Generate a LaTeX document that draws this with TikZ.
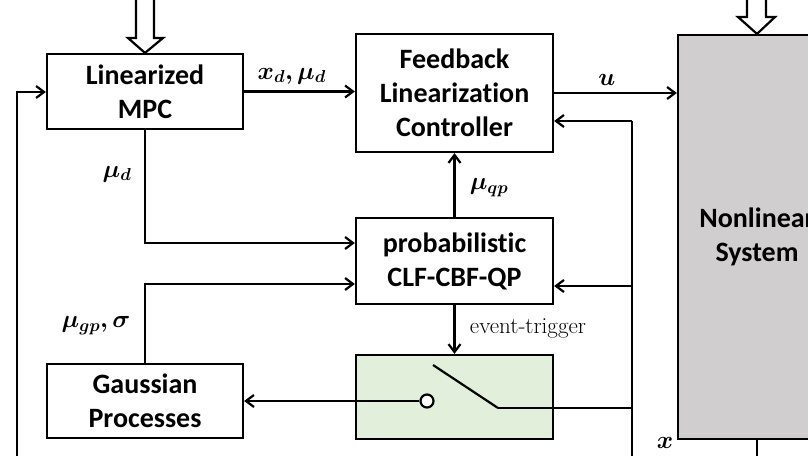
\documentclass[tikz,border=0pt]{standalone}
\usepackage{fontspec}
\setmainfont{Carlito}[Ligatures={NoCommon,NoRequired,NoContextual}]
\newfontfamily\serifet{Latin Modern Roman}
\usepackage{amsmath,bm}
\usetikzlibrary{arrows.meta}
\definecolor{sysgray}{RGB}{208,206,206}
\definecolor{swgreen}{RGB}{226,239,218}
\begin{document}
\begin{tikzpicture}[x=1pt,y=-1pt,
  line width=2.2pt,
  blk/.style={draw,line width=2.2pt,inner sep=0pt,align=center,font=\fontsize{28}{34}\selectfont\bfseries},
  arr/.style={-{Straight Barb[length=8pt,width=12pt,line width=2.2pt]}},
  mlab/.style={font=\fontsize{26}{28}\selectfont},
  hollow/.style={draw,line width=2.2pt,fill=white,line join=miter}]
\useasboundingbox (0,0) rectangle (808,455);
% blocks
\node[blk,minimum width=196pt,minimum height=75pt] (mpc) at (145,91.5) {Linearized\\MPC};
\node[blk,minimum width=197pt,minimum height=118pt] (flc) at (454.5,93) {Feedback\\Linearization\\Controller};
\node[blk,minimum width=197pt,minimum height=86pt] (pqp) at (454.5,261) {probabilistic\\CLF-CBF-QP};
\node[blk,minimum width=197pt,minimum height=84pt,fill=swgreen] (sw) at (454.5,397) {};
\node[blk,minimum width=196pt,minimum height=74pt] (gp) at (145,401) {Gaussian\\Processes};
\node[blk,minimum width=158pt,minimum height=404pt,fill=sysgray] (ns) at (757,237) {Nonlinear\\System};
% hollow input arrows
\draw[hollow] (136,-2) -- (136,38) -- (128,38) -- (mpc.north) -- (163,38) -- (154,38) -- (154,-2);
\draw[hollow] (747,-2) -- (747,17) -- (738,17) -- (ns.north) -- (775,17) -- (766,17) -- (766,-2);
% coordinates
\coordinate (busTop) at (632,121);
\coordinate (busQP) at (632,286);
\coordinate (busSW) at (632,408);
\coordinate (busBot) at (632,457);
\coordinate (leftBot) at (17,457);
\coordinate (leftTop) at (17,92);
\coordinate (mpcDown) at (145,243);
\coordinate (gpUp) at (145,284);
\coordinate (nsBot) at (757,457);
\coordinate (bladeA) at (433,365);
\coordinate (bladeB) at (498,408);
% switch contact
\node[draw,circle,line width=2.2pt,minimum size=13pt,inner sep=0pt,fill=white] (ct) at (427,401) {};
% connectors
\draw[arr] (mpc.east) -- (mpc.east -| flc.west) node[pos=0.43,above=3pt,mlab] {$\bm{x_d,\mu_d}$};
\draw[arr] (flc.east) -- (flc.east -| ns.west) node[pos=0.43,above=3pt,mlab] {$\bm{u}$};
\draw (busBot) -- (busTop);
\draw[arr] (busTop) -- (busTop -| flc.east);
\draw[arr] (busQP) -- (busQP -| pqp.east);
\draw (bladeB) -- (busSW);
\draw (bladeA) -- (bladeB);
\draw[arr] (leftBot) -- (leftTop) -- (leftTop -| mpc.west);
\draw[arr] (mpc.south) -- (mpcDown) -- (mpcDown -| pqp.west);
\draw[arr] (gp.north) -- (gpUp) -- (gpUp -| pqp.west);
\draw[arr] (pqp.north) -- (flc.south);
\draw[arr] (pqp.south) -- (sw.north);
\draw[arr] (ct.west) -- (ct.west -| gp.east);
\draw (ns.south) -- (nsBot);
% labels
\node[mlab] (lmud) at (117,174) {$\bm{\mu_d}$};
\node[mlab] (lmuqp) at (489,188) {$\bm{\mu_{qp}}$};
\node[mlab] (lmugp) at (96,326) {$\bm{\mu_{gp},\sigma}$};
\node[font=\serifet\fontsize{23}{26}\selectfont] (let) at (528,328) {event-trigger};
\node[mlab] (lx) at (665,443) {$\bm{x}$};
\end{tikzpicture}
\end{document}
